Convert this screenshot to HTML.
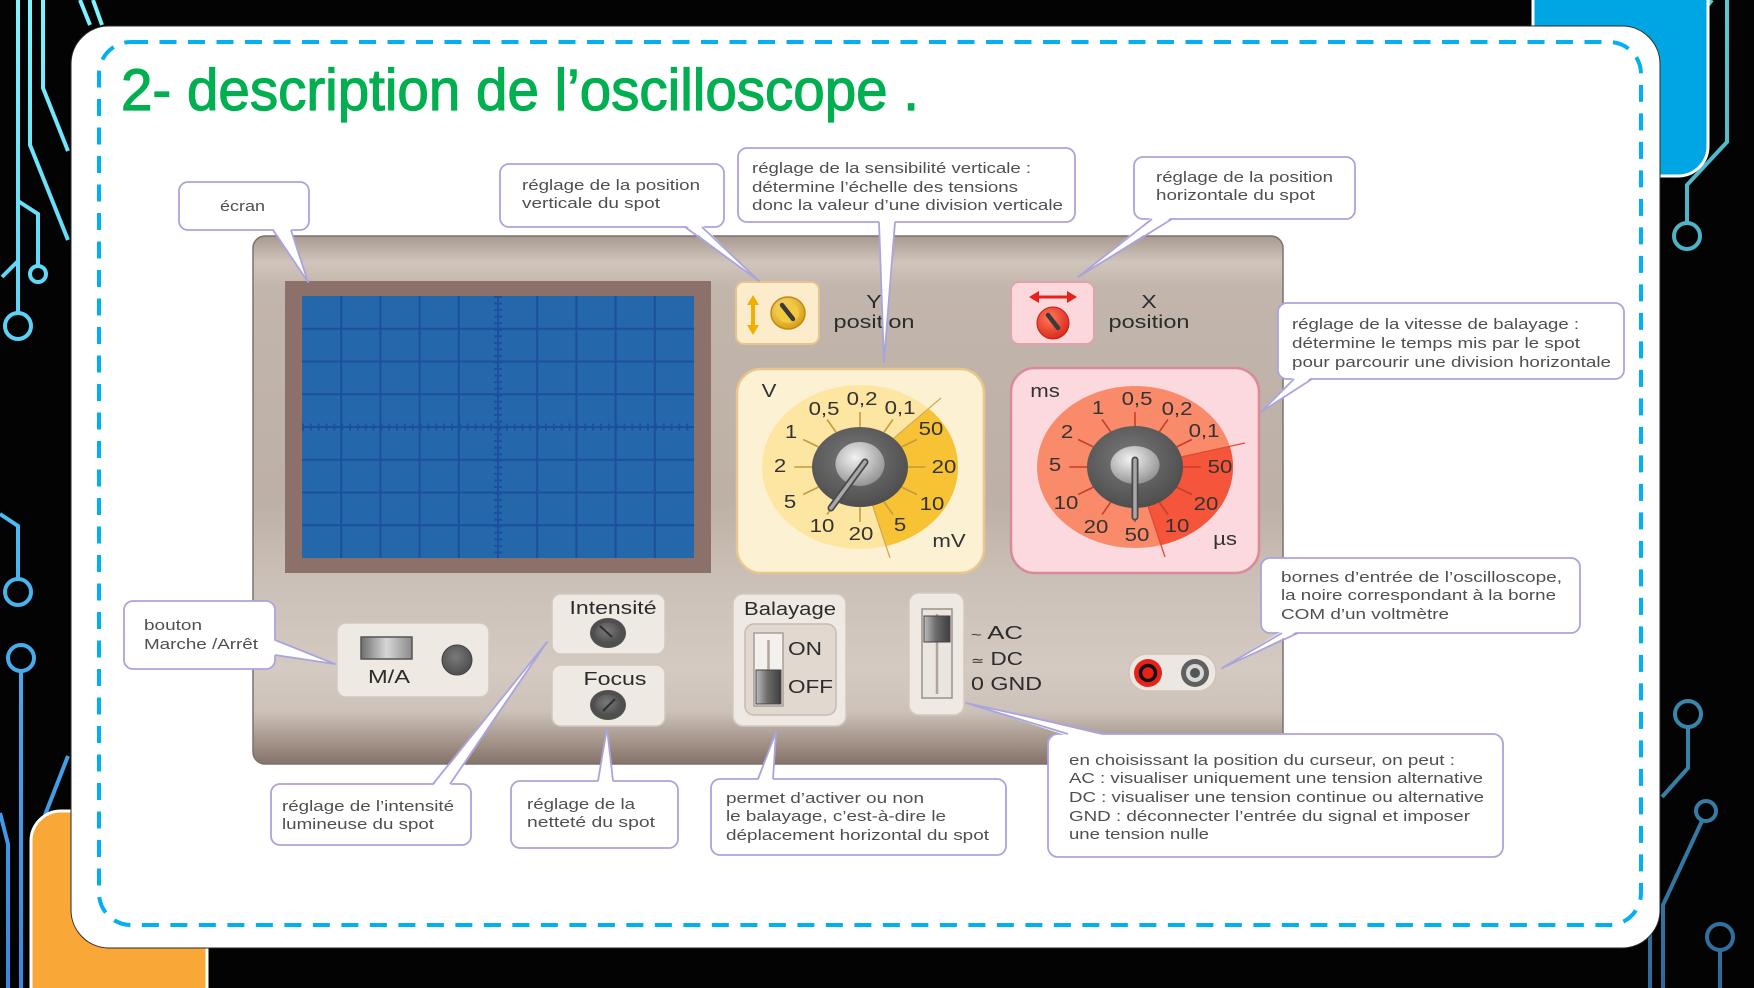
<!DOCTYPE html>
<html><head><meta charset="utf-8"><style>
html,body{margin:0;padding:0;background:#000;}
svg{display:block;}
text{font-family:"Liberation Sans",Arial,sans-serif;}
.c{fill:#fff;stroke:#aaa4dc;stroke-width:1.8;}
.t{fill:#fff;stroke:none;}
.tl{fill:none;stroke:#aaa4dc;stroke-width:1.8;stroke-linejoin:round;}
.ct{font-size:15px;fill:#4f4f4f;}
.dl{font-size:18.5px;fill:#333;}
.lb{font-size:18.5px;fill:#2c2c2c;}
</style></head><body>
<svg width="1754" height="988" viewBox="0 0 1754 988" xmlns="http://www.w3.org/2000/svg">
<defs>
<linearGradient id="gl" x1="0" y1="0" x2="0" y2="988" gradientUnits="userSpaceOnUse"><stop offset="0" stop-color="#7ef5ff"/><stop offset="0.5" stop-color="#4cbff0"/><stop offset="1" stop-color="#3a86e0"/></linearGradient>
<linearGradient id="gr" x1="0" y1="0" x2="0" y2="988" gradientUnits="userSpaceOnUse"><stop offset="0" stop-color="#57c9d4"/><stop offset="1" stop-color="#2e6b9c"/></linearGradient>
<linearGradient id="body" x1="0" y1="236" x2="0" y2="764" gradientUnits="userSpaceOnUse">
<stop offset="0" stop-color="#a89a91"/><stop offset="0.02" stop-color="#b8aba2"/><stop offset="0.05" stop-color="#d0c5bc"/><stop offset="0.1" stop-color="#c2b5ab"/><stop offset="0.5" stop-color="#bdb0a6"/><stop offset="0.65" stop-color="#cbc0b7"/><stop offset="0.82" stop-color="#d4cac2"/><stop offset="0.9" stop-color="#cdc2b9"/><stop offset="0.95" stop-color="#a99a90"/><stop offset="1" stop-color="#85736a"/></linearGradient>
<radialGradient id="knobD" cx="0.45" cy="0.4" r="0.6"><stop offset="0" stop-color="#7a7a7a"/><stop offset="1" stop-color="#4e4e4e"/></radialGradient>
<radialGradient id="knobL" cx="0.4" cy="0.35" r="0.7"><stop offset="0" stop-color="#f2f2f2"/><stop offset="1" stop-color="#909090"/></radialGradient>
<linearGradient id="sw" x1="0" y1="0" x2="1" y2="0"><stop offset="0" stop-color="#6f6f6f"/><stop offset="0.5" stop-color="#d6d6d6"/><stop offset="1" stop-color="#8a8a8a"/></linearGradient>
<linearGradient id="sl" x1="0" y1="0" x2="1" y2="0"><stop offset="0" stop-color="#bdbdbd"/><stop offset="0.45" stop-color="#6c6c6c"/><stop offset="1" stop-color="#3e3e3e"/></linearGradient>
<radialGradient id="gold" cx="0.4" cy="0.35" r="0.7"><stop offset="0" stop-color="#fbe07a"/><stop offset="1" stop-color="#d79c12"/></radialGradient>
<radialGradient id="redk" cx="0.4" cy="0.35" r="0.7"><stop offset="0" stop-color="#ff7a5a"/><stop offset="1" stop-color="#d8261a"/></radialGradient>
</defs>

<rect x="0" y="0" width="1754" height="988" fill="#030303"/>

<!-- left circuit -->
<g fill="none" stroke="url(#gl)" stroke-width="4">
<path d="M18,0 V313"/><circle cx="18" cy="326" r="13"/>
<path d="M18,201 L38,214 V266"/><circle cx="38" cy="274" r="8"/>
<path d="M18,261 L2,277"/>
<path d="M30,0 V145 L68,240"/>
<path d="M43,0 V88 L68,151"/>
<path d="M80,0 L90,25 M93,0 L102,25"/>
<path d="M0,514 L18,526 V579"/><circle cx="18" cy="592" r="13"/>
<circle cx="21" cy="658" r="13"/><path d="M21,671 V988"/>
<path d="M68,756 L45,815"/>
<path d="M0,813 L8,844 V988"/>
</g>
<!-- right circuit -->
<g fill="none" stroke="url(#gr)" stroke-width="4">
<path d="M1727,0 V142 L1687,185 V223"/><circle cx="1687" cy="236" r="13"/>
<path d="M1712,0 L1704,10"/>
<circle cx="1688" cy="714" r="13"/><path d="M1688,727 V768 L1662,797"/>
<circle cx="1706" cy="811" r="10"/><path d="M1702,821 L1663,905 V988"/>
<path d="M1650,925 V988"/>
<circle cx="1720" cy="937" r="13"/><path d="M1720,950 V988"/>
</g>

<!-- decorative shapes -->
<rect x="1533" y="-40" width="175" height="216" rx="30" fill="#00a5e3" stroke="#fff" stroke-width="3"/>
<rect x="31" y="811" width="176" height="220" rx="30" fill="#f9a838" stroke="#fff" stroke-width="3"/>

<!-- white panel -->
<rect x="71" y="26" width="1589" height="922" rx="38" fill="#fff" stroke="#2a2a2a" stroke-width="1"/>
<rect x="99" y="42" width="1542" height="883" rx="32" fill="none" stroke="#00b0f0" stroke-width="4" stroke-dasharray="17 11.5"/>

<!-- title -->
<text x="121" y="110" font-size="58" fill="#00b050" stroke="#00b050" stroke-width="1.2" textLength="798" lengthAdjust="spacingAndGlyphs">2- description de l’oscilloscope .</text>

<!-- body -->
<rect x="253" y="236" width="1030" height="528" rx="12" fill="url(#body)" stroke="#7a726d" stroke-width="1.5"/>

<!-- screen -->
<rect x="285" y="281" width="426" height="292" fill="#8b7169"/>
<rect x="302" y="296" width="392" height="262" fill="#2567ab"/>
<g stroke="#1c4f9e" stroke-width="2">
<path d="M341.2,296V558 M380.4,296V558 M419.6,296V558 M458.8,296V558 M498,296V558 M537.2,296V558 M576.4,296V558 M615.6,296V558 M654.8,296V558"/>
<path d="M302,328.75H694 M302,361.5H694 M302,394.25H694 M302,427H694 M302,459.75H694 M302,492.5H694 M302,525.25H694"/>
</g>
<g stroke="#1c4f9e" stroke-width="1.5">
<path d="M302,427H694" stroke-width="7" stroke-dasharray="2 5.84"/>
<path d="M498,296V558" stroke-width="8" stroke-dasharray="2 4.55"/>
</g>

<!-- Y position -->
<rect x="736" y="282" width="83" height="62" rx="8" fill="#fdeccb" stroke="#e6c48d" stroke-width="2"/>
<path d="M753,302 V328" stroke="#f0b000" stroke-width="4"/>
<polygon points="747,305 759,305 753,295" fill="#f0b000"/>
<polygon points="747,325 759,325 753,335" fill="#f0b000"/>
<ellipse cx="788" cy="313" rx="17" ry="16" fill="url(#gold)" stroke="#c08a10" stroke-width="1.5"/>
<ellipse cx="788" cy="313" rx="11" ry="10" fill="#f3c93f"/>
<line x1="782" y1="305" x2="793" y2="319" stroke="#3a3a3a" stroke-width="4.5" stroke-linecap="round"/>
<text class="lb" transform="translate(874,308) scale(1.25,1)" text-anchor="middle">Y</text>
<text class="lb" x="833.5" y="328" textLength="81" lengthAdjust="spacingAndGlyphs">position</text>

<!-- X position -->
<rect x="1011" y="282" width="83" height="62" rx="8" fill="#fcd8dd" stroke="#e0a2ac" stroke-width="2"/>
<path d="M1036,297 H1070" stroke="#e52218" stroke-width="3"/>
<polygon points="1039,291 1039,303 1029,297" fill="#e52218"/>
<polygon points="1067,291 1067,303 1077,297" fill="#e52218"/>
<ellipse cx="1053" cy="323" rx="16" ry="16" fill="url(#redk)" stroke="#c02015" stroke-width="1"/>
<line x1="1048" y1="315" x2="1058" y2="328" stroke="#3a3a3a" stroke-width="4.5" stroke-linecap="round"/>
<text class="lb" transform="translate(1149,308) scale(1.25,1)" text-anchor="middle">X</text>
<text class="lb" x="1108.5" y="328" textLength="81" lengthAdjust="spacingAndGlyphs">position</text>

<!-- Yellow dial -->
<rect x="737" y="369" width="247" height="204" rx="24" fill="#fdf1d3" stroke="#e8c68c" stroke-width="2.5"/>
<ellipse cx="860" cy="467" rx="98" ry="82" fill="#fde5a2"/>
<path d="M860,467 L929.3,409 A98,82 0 0 1 885.4,546.2 Z" fill="#f7c334"/>
<g stroke="#d2aa55" stroke-width="1.3">
<line x1="860" y1="467" x2="941" y2="398"/><line x1="860" y1="467" x2="890" y2="558"/>
</g>
<g stroke="#c49a3e" stroke-width="1.6">
<line x1="818.4" y1="446.9" x2="803.1" y2="439.5"/><line x1="836" y1="432.2" x2="827.1" y2="419.5"/>
<line x1="860" y1="426.8" x2="860" y2="412.1"/><line x1="884" y1="432.2" x2="892.9" y2="419.5"/>
<line x1="901.6" y1="446.9" x2="916.9" y2="439.5"/><line x1="908" y1="467" x2="925.7" y2="467"/>
<line x1="901.6" y1="487.1" x2="916.9" y2="494.5"/><line x1="884" y1="501.8" x2="892.9" y2="514.5"/>
<line x1="860" y1="507.2" x2="860" y2="521.9"/><line x1="836" y1="501.8" x2="827.1" y2="514.5"/>
<line x1="818.4" y1="487.1" x2="803.1" y2="494.5"/><line x1="812" y1="467" x2="794.3" y2="467"/>
</g>
<ellipse cx="860" cy="467" rx="48" ry="40" fill="url(#knobD)"/>
<ellipse cx="860" cy="464" rx="24.5" ry="22" fill="url(#knobL)"/>
<line x1="865" y1="462" x2="831" y2="508" stroke="#4a4a4a" stroke-width="7" stroke-linecap="round"/>
<line x1="865" y1="462" x2="831" y2="508" stroke="#a8a8a8" stroke-width="3.5" stroke-linecap="round"/>
<g class="dl" text-anchor="middle">
<text transform="translate(769,397) scale(1.2,1)">V</text>
<text transform="translate(824,415) scale(1.2,1)">0,5</text>
<text transform="translate(862,405) scale(1.2,1)">0,2</text>
<text transform="translate(900,414) scale(1.2,1)">0,1</text>
<text transform="translate(931,435) scale(1.2,1)">50</text>
<text transform="translate(944,473) scale(1.2,1)">20</text>
<text transform="translate(932,510) scale(1.2,1)">10</text>
<text transform="translate(900,531) scale(1.2,1)">5</text>
<text transform="translate(861,540) scale(1.2,1)">20</text>
<text transform="translate(822,532) scale(1.2,1)">10</text>
<text transform="translate(790,508) scale(1.2,1)">5</text>
<text transform="translate(780,472) scale(1.2,1)">2</text>
<text transform="translate(791,438) scale(1.2,1)">1</text>
<text transform="translate(949,547) scale(1.2,1)">mV</text>
</g>

<!-- Pink dial -->
<rect x="1011" y="368" width="248" height="205" rx="24" fill="#fcd9de" stroke="#d98a98" stroke-width="2.5"/>
<ellipse cx="1135" cy="467" rx="98" ry="81" fill="#f98b6b"/>
<path d="M1135,467 L1229.7,446 A98,81 0 0 1 1160.4,545.2 Z" fill="#f5553a"/>
<g stroke="#e04a35" stroke-width="1.3">
<line x1="1135" y1="467" x2="1245" y2="443"/><line x1="1135" y1="467" x2="1165" y2="557"/>
</g>
<g stroke="#c83e28" stroke-width="1.6">
<line x1="1093.4" y1="446.9" x2="1078.1" y2="439.5"/><line x1="1111" y1="432.2" x2="1102.1" y2="419.5"/>
<line x1="1135" y1="426.8" x2="1135" y2="412.1"/><line x1="1159" y1="432.2" x2="1167.9" y2="419.5"/>
<line x1="1176.6" y1="446.9" x2="1191.9" y2="439.5"/><line x1="1183" y1="467" x2="1200.7" y2="467"/>
<line x1="1176.6" y1="487.1" x2="1191.9" y2="494.5"/><line x1="1159" y1="501.8" x2="1167.9" y2="514.5"/>
<line x1="1135" y1="507.2" x2="1135" y2="521.9"/><line x1="1111" y1="501.8" x2="1102.1" y2="514.5"/>
<line x1="1093.4" y1="487.1" x2="1078.1" y2="494.5"/><line x1="1087" y1="467" x2="1069.3" y2="467"/>
</g>
<ellipse cx="1135" cy="467" rx="48" ry="41" fill="url(#knobD)"/>
<ellipse cx="1135" cy="465" rx="24.5" ry="19" fill="url(#knobL)"/>
<line x1="1135" y1="460" x2="1135" y2="517" stroke="#4a4a4a" stroke-width="7" stroke-linecap="round"/>
<line x1="1135" y1="460" x2="1135" y2="517" stroke="#a8a8a8" stroke-width="3.5" stroke-linecap="round"/>
<g class="dl" text-anchor="middle">
<text transform="translate(1045,397) scale(1.2,1)">ms</text>
<text transform="translate(1098,414) scale(1.2,1)">1</text>
<text transform="translate(1137,405) scale(1.2,1)">0,5</text>
<text transform="translate(1177,415) scale(1.2,1)">0,2</text>
<text transform="translate(1204,437) scale(1.2,1)">0,1</text>
<text transform="translate(1067,438) scale(1.2,1)">2</text>
<text transform="translate(1055,471) scale(1.2,1)">5</text>
<text transform="translate(1220,473) scale(1.2,1)">50</text>
<text transform="translate(1066,509) scale(1.2,1)">10</text>
<text transform="translate(1206,510) scale(1.2,1)">20</text>
<text transform="translate(1096,533) scale(1.2,1)">20</text>
<text transform="translate(1137,541) scale(1.2,1)">50</text>
<text transform="translate(1177,532) scale(1.2,1)">10</text>
<text transform="translate(1225,545) scale(1.2,1)">µs</text>
</g>

<!-- M/A -->
<rect x="337" y="623" width="152" height="74" rx="9" fill="#efe9e4" stroke="#d3c8bf" stroke-width="1.5"/>
<rect x="361" y="637" width="51" height="22" fill="url(#sw)" stroke="#555" stroke-width="1.5"/>
<text class="lb" x="368" y="683" textLength="42" lengthAdjust="spacingAndGlyphs">M/A</text>
<circle cx="457" cy="660" r="15" fill="url(#knobD)" stroke="#444" stroke-width="1"/>

<!-- Intensité / Focus -->
<rect x="552" y="594" width="113" height="60" rx="9" fill="#efe9e4" stroke="#d3c8bf" stroke-width="1.5"/>
<text class="lb" x="569.5" y="614" textLength="87" lengthAdjust="spacingAndGlyphs">Intensité</text>
<ellipse cx="608" cy="633" rx="18" ry="15" fill="#4f4f4f"/>
<ellipse cx="608" cy="633" rx="13" ry="10.5" fill="url(#knobD)"/>
<line x1="600" y1="626" x2="612" y2="637" stroke="#2e2e2e" stroke-width="2"/>
<rect x="552" y="665" width="113" height="61" rx="9" fill="#efe9e4" stroke="#d3c8bf" stroke-width="1.5"/>
<text class="lb" x="583.5" y="685" textLength="63" lengthAdjust="spacingAndGlyphs">Focus</text>
<ellipse cx="608" cy="705" rx="18" ry="15" fill="#4f4f4f"/>
<ellipse cx="608" cy="705" rx="13" ry="10.5" fill="url(#knobD)"/>
<line x1="603" y1="711" x2="615" y2="699" stroke="#2e2e2e" stroke-width="2"/>

<!-- Balayage -->
<rect x="733" y="594" width="113" height="132" rx="10" fill="#efe9e4" stroke="#d3c8bf" stroke-width="1.5"/>
<text class="lb" x="744" y="615" textLength="92" lengthAdjust="spacingAndGlyphs">Balayage</text>
<rect x="745" y="624" width="91" height="91" rx="9" fill="#e1d8d0" stroke="#c7bbb2" stroke-width="1.5"/>
<rect x="754" y="633" width="29" height="73" fill="#f4f0ec" stroke="#a99d95" stroke-width="1.5"/>
<line x1="768.5" y1="640" x2="768.5" y2="700" stroke="#b0a49c" stroke-width="2.5"/>
<rect x="756" y="670" width="25" height="34" fill="url(#sl)" stroke="#444" stroke-width="1"/>
<text class="lb" x="788" y="655" textLength="34" lengthAdjust="spacingAndGlyphs">ON</text>
<text class="lb" x="788" y="693" textLength="45" lengthAdjust="spacingAndGlyphs">OFF</text>

<!-- AC/DC -->
<rect x="909" y="593" width="55" height="122" rx="10" fill="#efe9e4" stroke="#d3c8bf" stroke-width="1.5"/>
<rect x="922" y="609" width="30" height="89" fill="#ebe5e0" stroke="#9d918a" stroke-width="1.5"/>
<line x1="937" y1="614" x2="937" y2="694" stroke="#b0a49c" stroke-width="2.5"/>
<rect x="924" y="616" width="26" height="26" fill="url(#sl)" stroke="#444" stroke-width="1"/>
<text class="lb" x="971" y="639" textLength="52" lengthAdjust="spacingAndGlyphs"><tspan font-size="13">~</tspan> AC</text>
<text class="lb" x="971" y="665" textLength="52" lengthAdjust="spacingAndGlyphs"><tspan font-size="13">≃</tspan> DC</text>
<text class="lb" x="971" y="690" textLength="71" lengthAdjust="spacingAndGlyphs">0 GND</text>

<!-- terminals -->
<rect x="1129" y="654" width="87" height="37" rx="18" fill="#ede7e2" stroke="#cfc4bb" stroke-width="1.5"/>
<circle cx="1148" cy="673" r="14" fill="#e8221b"/>
<circle cx="1148" cy="673" r="7.5" fill="#e8221b" stroke="#111" stroke-width="3.5"/>
<circle cx="1195" cy="673" r="14" fill="#606060"/>
<circle cx="1195" cy="673" r="9" fill="#d8d8d8"/>
<circle cx="1195" cy="673" r="5" fill="#555"/>

<!-- callouts -->
<rect class="c" x="179" y="182" width="130" height="48" rx="9"/>
<polygon class="t" points="273,228 291,228 308,282"/>
<polyline class="tl" points="273,230 308,282 291,230"/>
<text class="ct" x="220" y="211" textLength="45" lengthAdjust="spacingAndGlyphs">écran</text>

<rect class="c" x="500" y="164" width="224" height="63" rx="9"/>
<polygon class="t" points="685,225 702,225 759,281"/>
<polyline class="tl" points="685,227 759,281 702,227"/>
<text class="ct" x="522" y="190" textLength="178" lengthAdjust="spacingAndGlyphs">réglage de la position</text>
<text class="ct" x="522" y="208" textLength="138" lengthAdjust="spacingAndGlyphs">verticale du spot</text>

<rect class="c" x="738" y="148" width="337" height="74" rx="9"/>
<polygon class="t" points="879,220 895,220 884,362"/>
<polyline class="tl" points="879,222 884,362 895,222"/>
<text class="ct" x="752" y="173" textLength="279" lengthAdjust="spacingAndGlyphs">réglage de la sensibilité verticale :</text>
<text class="ct" x="752" y="192" textLength="266" lengthAdjust="spacingAndGlyphs">détermine l’échelle des tensions</text>
<text class="ct" x="752" y="210" textLength="311" lengthAdjust="spacingAndGlyphs">donc la valeur d’une division verticale</text>

<rect class="c" x="1134" y="157" width="221" height="62" rx="9"/>
<polygon class="t" points="1152,217 1172,217 1078,277"/>
<polyline class="tl" points="1152,219 1078,277 1172,219"/>
<text class="ct" x="1156" y="182" textLength="177" lengthAdjust="spacingAndGlyphs">réglage de la position</text>
<text class="ct" x="1156" y="200" textLength="159" lengthAdjust="spacingAndGlyphs">horizontale du spot</text>

<rect class="c" x="1278" y="303" width="346" height="76" rx="9"/>
<polygon class="t" points="1294,377 1312,377 1261,412"/>
<polyline class="tl" points="1294,379 1261,412 1312,379"/>
<text class="ct" x="1292" y="329" textLength="287" lengthAdjust="spacingAndGlyphs">réglage de la vitesse de balayage :</text>
<text class="ct" x="1292" y="348" textLength="288" lengthAdjust="spacingAndGlyphs">détermine le temps mis par le spot</text>
<text class="ct" x="1292" y="367" textLength="319" lengthAdjust="spacingAndGlyphs">pour parcourir une division horizontale</text>

<rect class="c" x="1261" y="558" width="319" height="75" rx="9"/>
<polygon class="t" points="1282,631 1298,631 1222,668"/>
<polyline class="tl" points="1282,633 1222,668 1298,633"/>
<text class="ct" x="1281" y="582" textLength="281" lengthAdjust="spacingAndGlyphs">bornes d’entrée de l’oscilloscope,</text>
<text class="ct" x="1281" y="600" textLength="275" lengthAdjust="spacingAndGlyphs">la noire correspondant à la borne</text>
<text class="ct" x="1281" y="619" textLength="168" lengthAdjust="spacingAndGlyphs">COM d’un voltmètre</text>

<rect class="c" x="124" y="601" width="151" height="68" rx="9"/>
<polygon class="t" points="273,640 273,655 335,664"/>
<polyline class="tl" points="275,640 335,664 275,655"/>
<text class="ct" x="144" y="630" textLength="58" lengthAdjust="spacingAndGlyphs">bouton</text>
<text class="ct" x="144" y="649" textLength="114" lengthAdjust="spacingAndGlyphs">Marche /Arrêt</text>

<rect class="c" x="271" y="784" width="200" height="61" rx="9"/>
<polygon class="t" points="433,786 450,786 547,642"/>
<polyline class="tl" points="433,784 547,642 450,784"/>
<text class="ct" x="282" y="811" textLength="172" lengthAdjust="spacingAndGlyphs">réglage de l’intensité</text>
<text class="ct" x="282" y="829" textLength="152" lengthAdjust="spacingAndGlyphs">lumineuse du spot</text>

<rect class="c" x="511" y="781" width="167" height="67" rx="9"/>
<polygon class="t" points="598,783 613,783 607,728"/>
<polyline class="tl" points="598,781 607,728 613,781"/>
<text class="ct" x="527" y="809" textLength="108" lengthAdjust="spacingAndGlyphs">réglage de la</text>
<text class="ct" x="527" y="827" textLength="128" lengthAdjust="spacingAndGlyphs">netteté du spot</text>

<rect class="c" x="711" y="779" width="295" height="76" rx="9"/>
<polygon class="t" points="758,781 773,781 776,732"/>
<polyline class="tl" points="758,779 776,732 773,779"/>
<text class="ct" x="726" y="803" textLength="198" lengthAdjust="spacingAndGlyphs">permet d’activer ou non</text>
<text class="ct" x="726" y="821" textLength="220" lengthAdjust="spacingAndGlyphs">le balayage, c’est-à-dire le</text>
<text class="ct" x="726" y="840" textLength="263" lengthAdjust="spacingAndGlyphs">déplacement horizontal du spot</text>

<rect class="c" x="1048" y="734" width="455" height="123" rx="10"/>
<polygon class="t" points="1068,736 1107,736 966,703"/>
<polyline class="tl" points="1068,734 966,703 1107,734"/>
<text class="ct" x="1069" y="765" textLength="386" lengthAdjust="spacingAndGlyphs">en choisissant la position du curseur, on peut :</text>
<text class="ct" x="1069" y="783" textLength="414" lengthAdjust="spacingAndGlyphs">AC : visualiser uniquement une tension alternative</text>
<text class="ct" x="1069" y="802" textLength="415" lengthAdjust="spacingAndGlyphs">DC : visualiser une tension continue ou alternative</text>
<text class="ct" x="1069" y="821" textLength="401" lengthAdjust="spacingAndGlyphs">GND : déconnecter l’entrée du signal et imposer</text>
<text class="ct" x="1069" y="839" textLength="140" lengthAdjust="spacingAndGlyphs">une tension nulle</text>
</svg>
</body></html>
